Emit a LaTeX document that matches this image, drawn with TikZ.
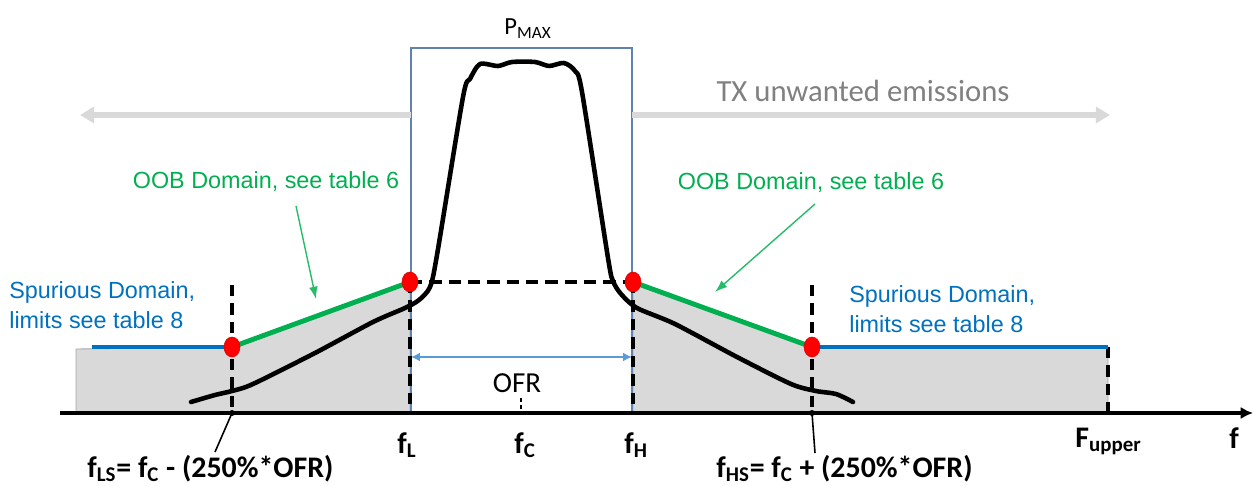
\documentclass[tikz,border=0pt]{standalone}
\usepackage{fontspec}
\setmainfont{Liberation Sans}
\newfontfamily\calibri{Carlito}
\usepackage{tikz}
\usetikzlibrary{arrows.meta,shapes.geometric}
\definecolor{oobgreen}{RGB}{0,176,80}
\definecolor{spurblue}{RGB}{0,112,192}
\definecolor{ofrblue}{RGB}{91,155,213}
\definecolor{boxblue}{RGB}{95,130,175}
\definecolor{greyfill}{RGB}{217,217,217}
\definecolor{txgrey}{RGB}{128,128,128}

\begin{document}
\begin{tikzpicture}[x=0.02cm,y=-0.02cm,
    reddot/.style={ellipse,fill=red,draw=red!85!black,line width=0.3pt,inner sep=0pt,minimum width=0.32cm,minimum height=0.4cm},
    limit/.style={black,line width=2pt,dash pattern=on 6.5pt off 4pt},
    pointer/.style={oobgreen!85!white,line width=0.8pt,-{Latex[length=7pt,width=5pt]}},
    lbl/.style={font=\calibri\bfseries\fontsize{17}{20}\selectfont,inner sep=0pt},
    dom/.style={font=\fontsize{13.3}{17}\selectfont,inner sep=0pt}]
    \useasboundingbox (0,0) rectangle (1254,486);
    % break points of the mask
    \coordinate (LS) at (232,347);
    \coordinate (L) at (410,282);
    \coordinate (H) at (633,282);
    \coordinate (HS) at (812,347);
    \coordinate (Up) at (1108,347);
    \coordinate (aLS) at (232,413);
    \coordinate (aL) at (410,413);
    \coordinate (aC) at (521,413);
    \coordinate (aH) at (633,413);
    \coordinate (aHS) at (812,413);
    \coordinate (aUp) at (1108,413);
    % grey areas
    \filldraw[fill=greyfill,draw=black!35,line width=0.5pt] (76,413) -- (76,349) -- (LS) -- (L) -- (aL) -- cycle;
    \filldraw[fill=greyfill,draw=black!35,line width=0.5pt] (H) -- (HS) -- (Up) -- (aUp) -- (aH) -- cycle;
    % channel box
    \coordinate (boxTL) at (411,48);
    \coordinate (boxTR) at (632,48);
    \draw[boxblue,line width=0.6pt] (411,413) -- (boxTL) -- (boxTR) -- (632,413);
    \node[font=\calibri\fontsize{14}{16}\selectfont] (pmax) at (528,29) {P\textsubscript{MAX}};
    % unwanted emissions
    \coordinate (emL) at (411,115);
    \coordinate (emR) at (632,115);
    \draw[greyfill,line width=3.4pt,-{Triangle[length=8pt,width=9pt]}] (emL) -- (80,115);
    \draw[greyfill,line width=3.4pt,-{Triangle[length=8pt,width=9pt]}] (emR) -- (1110,115);
    \node[txgrey,font=\calibri\fontsize{17.5}{20}\selectfont] (tx) at (863,91) {TX unwanted emissions};
    % OOB labels
    \node[oobgreen,dom] (oobL) at (266,182) {OOB Domain, see table 6};
    \node[oobgreen,dom] (oobR) at (811,183) {OOB Domain, see table 6};
    \coordinate (pL) at (296,206);
    \coordinate (pLend) at (316,299);
    \coordinate (pR) at (815,204);
    \coordinate (pRend) at (715,292);
    \draw[pointer] (pL) -- (pLend);
    \draw[pointer] (pR) -- (pRend);
    % spurious labels
    \node[spurblue,dom,align=left,anchor=west] (spL) at (9,305) {Spurious Domain,\\limits see table 8};
    \node[spurblue,dom,align=left,anchor=west] (spR) at (849,309) {Spurious Domain,\\limits see table 8};
    % spectrum
    \draw[black,line width=2.6pt,line join=round,line cap=round] plot[smooth,tension=0.45] coordinates {
        (191,402) (215,395) (232,391) (253,384) (315,353) (373,322) (405,308) (419,300)
        (430,287) (437,255) (463,97) (470,79) (480,64) (498,66) (512,62) (535,62)
        (549,66) (564,63) (575,71) (582,92) (608,258) (613,281) (621,294) (637,308)
        (675,324) (737,357) (791,384) (816,391) (836,394) (853,402)};
    % limits
    \draw[limit] (232,285) -- (aLS);
    \draw[limit] (L) -- (aL);
    \draw[limit] (H) -- (aH);
    \draw[limit] (812,285) -- (aHS);
    \draw[limit] (Up) -- (aUp);
    \draw[black,line width=2.3pt,dash pattern=on 7pt off 4pt] (L) -- (H);
    \draw[black,line width=0.6pt,dash pattern=on 2pt off 2pt] (521,398) -- (aC);
    \draw[oobgreen,line width=2.8pt] (LS) -- (L);
    \draw[oobgreen,line width=2.8pt] (H) -- (HS);
    \draw[spurblue,line width=2.3pt] (92,347) -- (LS);
    \draw[spurblue,line width=2.3pt] (HS) -- (Up);
    \node[reddot] (dLS) at (LS) {};
    \node[reddot] (dL) at (L) {};
    \node[reddot] (dH) at (H) {};
    \node[reddot] (dHS) at (HS) {};
    % frequency axis
    \draw[black,line width=2.3pt,-{Latex[length=7pt,width=7pt]}] (60,413) -- (1253,413);
    \fill (aLS) circle (3);
    \fill (aHS) circle (3);
    \coordinate (ofrA) at (411,357);
    \coordinate (ofrB) at (632,357);
    \draw[ofrblue,line width=1.5pt,{Latex[length=5pt,width=5pt]}-{Latex[length=5pt,width=5pt]}] (ofrA) -- (ofrB);
    \node[font=\calibri\fontsize{16.5}{18}\selectfont] (ofr) at (517,383) {OFR};
    % labels
    \node[lbl,anchor=base west] (fL) at (397,453) {f\textsubscript{L}};
    \node[lbl,anchor=base west] (fC) at (514,453) {f\textsubscript{C}};
    \node[lbl,anchor=base west] (fH) at (624,453) {f\textsubscript{H}};
    \node[lbl,anchor=base west] (fUp) at (1075,447) {F\textsubscript{upper}};
    \node[lbl,anchor=base west] (f) at (1229,448) {f};
    \node[lbl,anchor=base west] (fLS) at (87,477) {f\textsubscript{LS}= f\textsubscript{C} - (250\%*OFR)};
    \node[lbl,anchor=base west] (fHS) at (716,477) {f\textsubscript{HS}= f\textsubscript{C} + (250\%*OFR)};
    \coordinate (tLS) at (215,452);
    \coordinate (tHS) at (815,453);
    \draw[black,line width=0.9pt] (aLS) -- (tLS);
    \draw[black,line width=0.9pt] (aHS) -- (tHS);
\end{tikzpicture}
\end{document}
